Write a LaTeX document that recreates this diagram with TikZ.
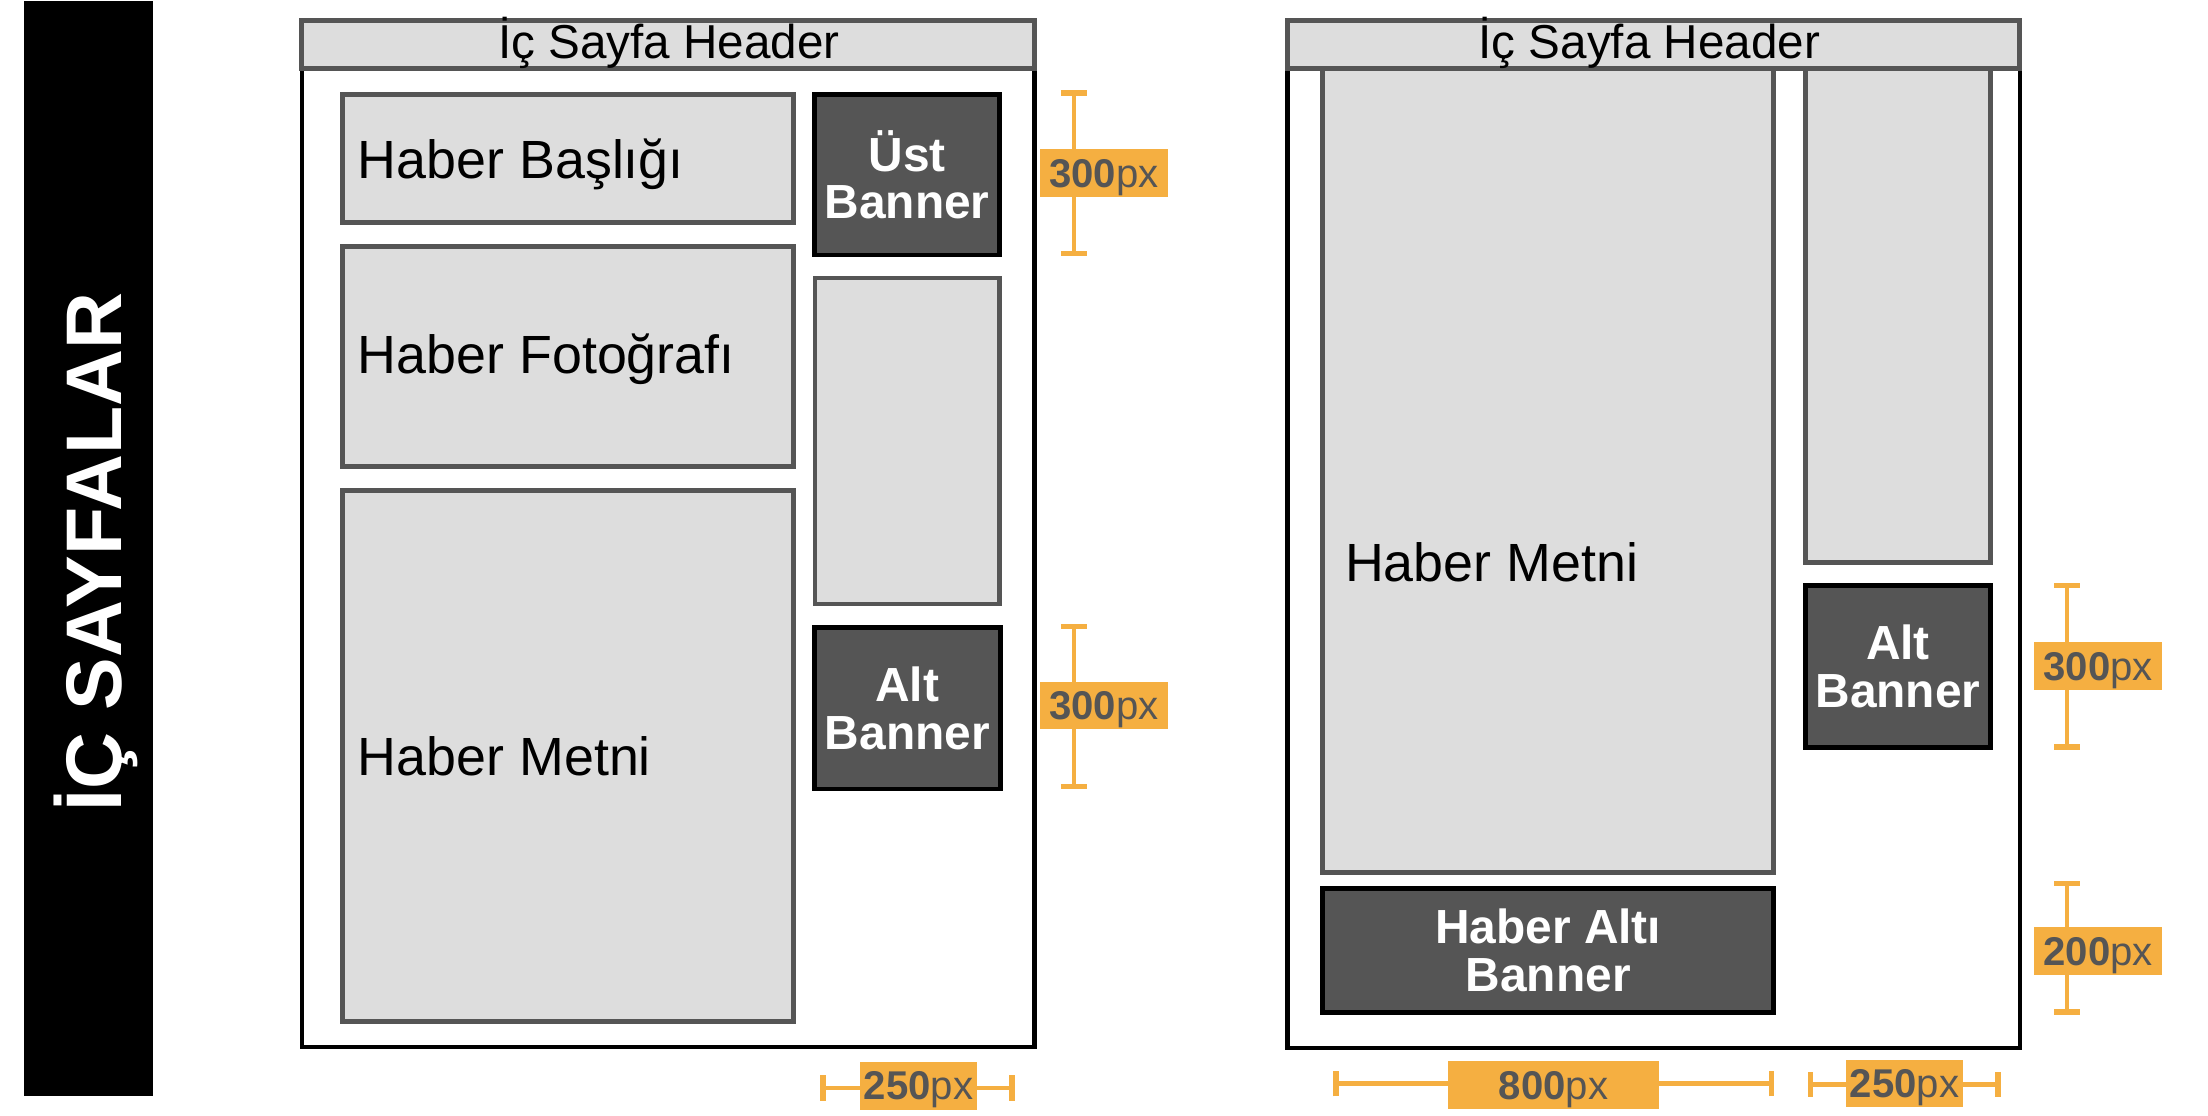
\documentclass[tikz,border=0pt]{standalone}
\usepackage{fontspec}
\setmainfont{Liberation Sans}
\definecolor{boxgray}{HTML}{DDDDDD}
\definecolor{edgegray}{HTML}{555555}
\definecolor{bannergray}{HTML}{555555}
\definecolor{dimorange}{HTML}{F5AF41}
\definecolor{dimtext}{HTML}{555555}
% name, style, x1, y1, x2, y2 (outer edges), text
\newcommand\mkbox[7]{\node[#2, minimum width={(#5-#3)*1pt-3.4pt}, minimum height={(#6-#4)*1pt-3.4pt}] (#1) at ({(#3+#5)/2},{(#4+#6)/2}) {#7};}
% vertical dimension: name, x, y1, y2
\newcommand\mkvdim[4]{%
  \coordinate (#1a) at (#2,#3); \coordinate (#1b) at (#2,#4);
  \draw[dimline] (#1a) -- (#1b);
  \draw[dimtick] ([xshift=-9.3pt]#1a) -- ([xshift=9.3pt]#1a);
  \draw[dimtick] ([xshift=-9.3pt]#1b) -- ([xshift=9.3pt]#1b);}
% horizontal dimension: name, y, x1, x2
\newcommand\mkhdim[4]{%
  \coordinate (#1a) at (#3,#2); \coordinate (#1b) at (#4,#2);
  \draw[dimline] (#1a) -- (#1b);
  \draw[dimtick] ([yshift=-9pt]#1a) -- ([yshift=9pt]#1a);
  \draw[dimtick] ([yshift=-9pt]#1b) -- ([yshift=9pt]#1b);}
% dimension label: name, x1, y1, x2, y2, number
\newcommand\mkdimlabel[6]{\node[dimlabel, minimum width={(#4-#2)*1pt}, minimum height={(#5-#3)*1pt}] (#1) at ({(#2+#4)/2},{(#3+#5)/2}) {\textbf{#6}px};}
\begin{document}
\begin{tikzpicture}[x=1pt,y=-1pt,
  pageframe/.style={draw=black, fill=white, line width=3.3pt, inner sep=0pt, outer sep=0pt},
  hdrbox/.style={draw=edgegray, fill=boxgray, line width=3.5pt, inner sep=0pt, outer sep=0pt},
  gbox/.style={draw=edgegray, fill=boxgray, line width=3.3pt, inner sep=0pt, outer sep=0pt},
  dbox/.style={draw=black, fill=bannergray, line width=3.5pt, inner sep=0pt, outer sep=0pt,
    text=white, align=center, font=\bfseries\fontsize{34}{33.8}\selectfont},
  hdrtext/.style={font=\fontsize{33.8}{36}\selectfont, anchor=base, inner sep=0pt},
  lbltext/.style={font=\fontsize{38.2}{40}\selectfont, anchor=base west, inner sep=0pt},
  dimline/.style={draw=dimorange, line width=3.2pt},
  dimtick/.style={draw=dimorange, line width=3.7pt},
  dimlabel/.style={fill=dimorange, inner sep=0pt, text=dimtext,
    font=\fontsize{28.5}{30}\selectfont, text height=20pt, text depth=0pt},
  bartext/.style={text=white, font=\bfseries\fontsize{56}{60}\selectfont, inner sep=0pt, anchor=base, rotate=90}
]
\useasboundingbox (0,0) rectangle (1568,792.5);

% side title bar
\node[fill=black, inner sep=0pt, outer sep=0pt, minimum width=91.4pt, minimum height=777pt] (bar) at (62.7,389.5) {};
\node[bartext] (bartitle) at (86.4,392) {İÇ SAYFALAR};

% ---------- left page ----------
\mkbox{lframe}{pageframe}{212.7}{13}{736.5}{745.3}{}
\mkbox{ltitle}{gbox}{241.5}{65.2}{565.4}{159.8}{}
\mkbox{lphoto}{gbox}{241.5}{173.2}{565.4}{333}{}
\mkbox{ltext}{gbox}{241.5}{346.7}{565.4}{727}{}
\mkbox{lust}{dbox}{576.8}{65.3}{711.5}{182.8}{Üst\\Banner}
\mkbox{lside}{gbox}{577}{195.8}{711.5}{430.6}{}
\mkbox{lalt}{dbox}{576.6}{444}{712}{562}{Alt\\Banner}
\mkbox{lheader}{hdrbox}{212.7}{13}{736.5}{50.2}{}
\node[hdrtext] (lheadertext) at (475,41.4) {İç Sayfa Header};
\node[lbltext] (ltitletext) at (254,126.5) {Haber Başlığı};
\node[lbltext] (lphototext) at (254,265) {Haber Fotoğrafı};
\node[lbltext] (ltexttext) at (254,550.5) {Haber Metni};

% ---------- right page ----------
\mkbox{rframe}{pageframe}{912.4}{13}{1436.1}{746}{}
\mkbox{rtext}{gbox}{937.6}{44}{1261.3}{621.1}{}
\mkbox{rside}{gbox}{1280.6}{44}{1415}{401.3}{}
\mkbox{ralt}{dbox}{1280.6}{414}{1415}{532.4}{Alt\\Banner}
\mkbox{rbottom}{dbox}{937.5}{629.3}{1261.4}{720.4}{Haber Altı\\Banner}
\mkbox{rheader}{hdrbox}{912.4}{13}{1436.1}{50.2}{}
\node[hdrtext] (rheadertext) at (1171.3,41.4) {İç Sayfa Header};
\node[lbltext] (rtexttext) at (955,413) {Haber Metni};

% ---------- dimensions ----------
\mkvdim{dA}{762.6}{66.1}{180}
\mkdimlabel{dAl}{738.5}{106}{829.5}{140}{300}
\mkvdim{dB}{762.6}{444.9}{558.8}
\mkdimlabel{dBl}{738.5}{484}{829.5}{518}{300}
\mkhdim{dC}{772.7}{584.4}{718.6}
\mkdimlabel{dCl}{610.8}{754.2}{693.7}{788}{250}
\mkvdim{dD}{1468}{416}{530.5}
\mkdimlabel{dDl}{1444.5}{455.9}{1535.3}{490.1}{300}
\mkvdim{dE}{1468}{627.5}{718.7}
\mkdimlabel{dEl}{1444.5}{658.4}{1535.3}{692.4}{200}
\mkhdim{dF}{769.5}{948.7}{1257.8}
\mkdimlabel{dFl}{1028.4}{753.6}{1178}{787.4}{800}
\mkhdim{dG}{770}{1285.6}{1418.8}
\mkdimlabel{dGl}{1310.9}{752.5}{1394}{786.4}{250}
\end{tikzpicture}
\end{document}
